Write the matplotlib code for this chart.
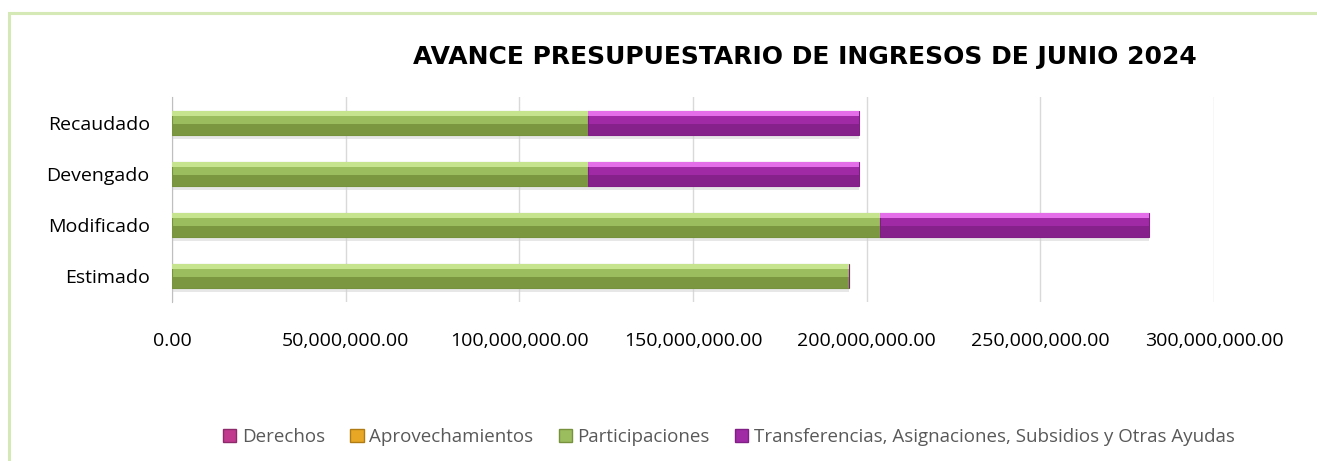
import matplotlib.pyplot as plt
from matplotlib.patches import Rectangle
from matplotlib.ticker import FuncFormatter

# Data
categorias = ["Estimado", "Modificado", "Devengado", "Recaudado"]
derechos = [0, 0, 0, 0]
aprovechamientos = [0, 0, 0, 0]
participaciones = [194800000, 203700000, 119750000, 119750000]
transferencias = [0, 77700000, 78000000, 78000000]

series = ["Derechos", "Aprovechamientos", "Participaciones",
          "Transferencias, Asignaciones, Subsidios y Otras Ayudas"]
valores = [derechos, aprovechamientos, participaciones, transferencias]

# base, light top, dark bottom
colores = [
    ("#c0398f", "#e889c8", "#8e2a6b"),
    ("#e8a826", "#ffd35c", "#b07b12"),
    ("#9cbd5e", "#c6e38d", "#76923c"),
    ("#a02aa6", "#e46ee9", "#821f86"),
]

plt.rcParams['font.family'] = ['Open Sans', 'DejaVu Sans']

fig = plt.figure(figsize=(13.17, 4.61), dpi=100)
fig.patches.append(Rectangle((9 / 1317, -0.1), 1.2, 1 - 13 / 461 + 0.1,
                             transform=fig.transFigure, fill=False,
                             edgecolor="#d5e9b6", linewidth=2.2, zorder=0))

ax = fig.add_axes([172 / 1317, 1 - 301.5 / 461, (1214 - 172) / 1317, 204 / 461])

y = range(len(categorias))
h = 0.47
left = [0] * len(categorias)
for nombre, vals, (base, claro, oscuro) in zip(series, valores, colores):
    # shadow
    ax.barh([i - 0.07 for i in y], vals, height=h, left=left, color="#d0d0d0",
            alpha=0.5, zorder=2)
    ax.barh(y, vals, height=h, left=left, color=base, edgecolor=oscuro,
            linewidth=0.8, zorder=3, label=nombre)
    ax.barh([i + h * 0.39 for i in y], vals, height=h * 0.2, left=left,
            color=claro, linewidth=0, zorder=4)
    ax.barh([i - h * 0.26 for i in y], vals, height=h * 0.46, left=left,
            color=oscuro, linewidth=0, zorder=4, alpha=0.85)
    left = [a + b for a, b in zip(left, vals)]

ax.set_xlim(0, 300000000)
ax.set_ylim(-0.5, len(categorias) - 0.5)
ax.set_xticks(range(0, 300000001, 50000000))
ax.xaxis.set_major_formatter(FuncFormatter(lambda v, p: f"{v:,.2f}"))
ax.set_yticks(list(y))
ax.set_yticklabels(categorias)
ax.grid(axis="x", color="#d9d9d9", linewidth=1, zorder=0)
ax.set_axisbelow(True)
for s in ["top", "right", "bottom"]:
    ax.spines[s].set_visible(False)
ax.spines["left"].set_color("#bfbfbf")
ax.tick_params(axis="both", length=0, labelsize=14, colors="black")
ax.tick_params(axis="x", pad=22)
ax.tick_params(axis="y", pad=16)

fig.text(805 / 1317, 1 - 57 / 461, "AVANCE PRESUPUESTARIO DE INGRESOS DE JUNIO 2024",
         ha="center", va="center", fontsize=18, fontweight="bold",
         family=["DejaVu Sans"])

handles = [Rectangle((0, 0), 1, 1, facecolor=c[0], edgecolor=c[2]) for c in colores]
leg = fig.legend(handles, series, loc="center", ncol=4,
                 bbox_to_anchor=(729 / 1317, 1 - 437 / 461), frameon=False,
                 fontsize=13.5, handlelength=0.7, handleheight=0.7,
                 handletextpad=0.3, columnspacing=1.35)
for t in leg.get_texts():
    t.set_color("#595959")

fig.savefig("out.png", dpi=100)
